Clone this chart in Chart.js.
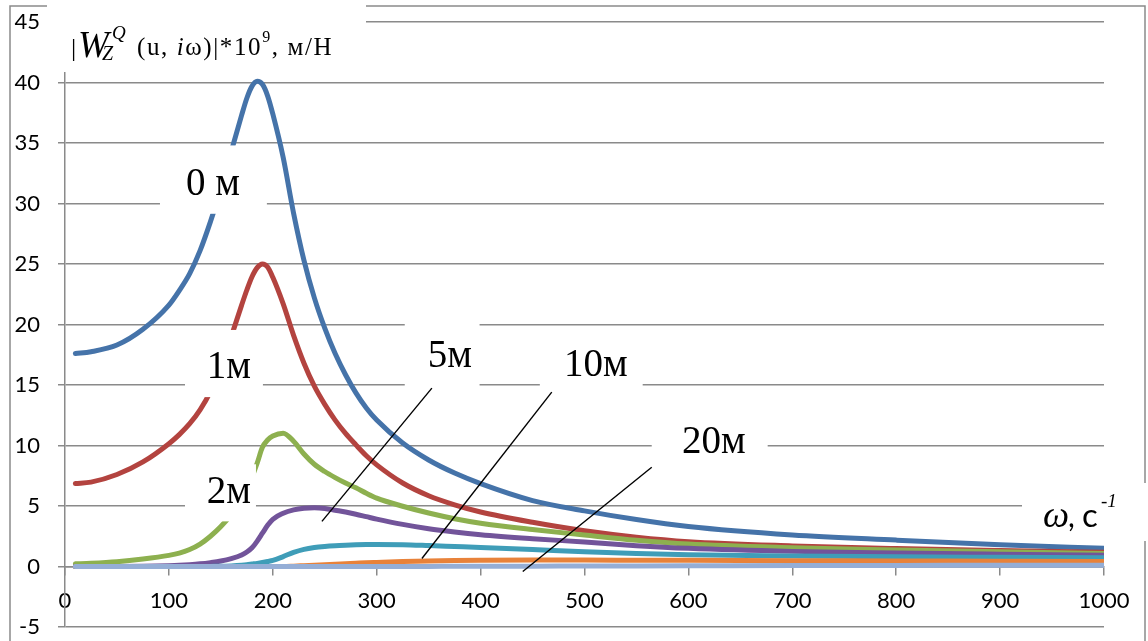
<!DOCTYPE html>
<html>
<head>
<meta charset="utf-8">
<script src="https://cdn.jsdelivr.net/npm/chart.js@4/dist/chart.umd.min.js"></script>
<style>
  html, body { margin: 0; padding: 0; background: #ffffff; }
  #wrap { width: 1148px; height: 641px; position: relative; }
</style>
</head>
<body>
<div id="wrap"><canvas id="chart" width="1148" height="641"></canvas></div>
<script>
// Frequency grid, c^-1
const omega = [10, 25, 50, 75, 100, 110, 120, 130, 140, 150, 160, 170, 175, 180, 185, 190, 195, 200, 210, 220,
               230, 240, 250, 260, 270, 280, 290, 300, 325, 350, 375, 400, 450, 500, 550, 600, 700, 800, 900, 1000];

// |W| * 1e9, m/N, for each depth u
const w0 = [17.6, 17.75, 18.3, 19.6, 21.6, 22.8, 24.2, 26.1, 28.5, 31.2, 34.3, 37.3, 38.7, 39.7, 40.1, 39.85, 38.9, 37.4, 33.8, 29.2,
            25.3, 22.2, 19.7, 17.6, 15.85, 14.35, 13.1, 12.1, 10.2, 8.8, 7.72, 6.85, 5.45, 4.6, 3.88, 3.3, 2.6, 2.18, 1.8, 1.5];
const w1 = [6.86, 6.97, 7.6, 8.64, 10.15, 10.9, 11.8, 12.95, 14.45, 16.5, 19.0, 21.6, 22.85, 23.95, 24.7, 25.0, 24.75, 23.9, 21.7, 19.1,
            16.8, 14.9, 13.4, 12.1, 11.0, 10.05, 9.15, 8.4, 6.9, 5.85, 5.1, 4.5, 3.65, 2.95, 2.42, 2.05, 1.7, 1.48, 1.32, 1.18];
const w2 = [0.22, 0.27, 0.4, 0.62, 0.92, 1.1, 1.4, 1.85, 2.5, 3.3, 4.3, 5.6, 6.4, 7.4, 8.55, 9.85, 10.45, 10.78, 11.02, 10.35,
            9.3, 8.45, 7.85, 7.35, 6.9, 6.5, 6.05, 5.65, 4.98, 4.42, 3.95, 3.58, 3.05, 2.6, 2.17, 1.85, 1.55, 1.37, 1.21, 1.07];
const w5 = [0, 0, 0.01, 0.03, 0.07, 0.1, 0.15, 0.22, 0.32, 0.45, 0.65, 0.95, 1.2, 1.55, 2.1, 2.75, 3.4, 3.9, 4.4, 4.68,
            4.82, 4.86, 4.8, 4.65, 4.5, 4.32, 4.12, 3.92, 3.48, 3.12, 2.85, 2.63, 2.3, 2.02, 1.72, 1.5, 1.25, 1.12, 1.02, 0.93];
const w10 = [0, 0, 0, 0, 0, 0, 0, 0, 0.01, 0.02, 0.05, 0.1, 0.14, 0.2, 0.26, 0.33, 0.41, 0.5, 0.82, 1.17,
             1.42, 1.57, 1.66, 1.72, 1.76, 1.79, 1.81, 1.82, 1.8, 1.73, 1.65, 1.57, 1.4, 1.22, 1.08, 0.98, 0.87, 0.8, 0.76, 0.72];
const w20 = [0, 0, 0, 0, 0, 0, 0, 0, 0, 0, 0, 0, 0, 0, 0, 0, 0, 0, 0, 0.03,
             0.07, 0.11, 0.15, 0.19, 0.23, 0.27, 0.31, 0.34, 0.41, 0.46, 0.49, 0.51, 0.53, 0.53, 0.52, 0.51, 0.48, 0.46, 0.43, 0.41];
const wDeep = [0, 0, 0, 0, 0, 0, 0, 0, 0, 0, 0, 0, 0, 0, 0, 0, 0, 0, 0, 0,
               0, 0, 0, 0, 0, 0, 0, 0, 0.005, 0.01, 0.015, 0.02, 0.03, 0.04, 0.05, 0.06, 0.08, 0.09, 0.1, 0.11];

const seriesNames  = ['0 м', '1м', '2м', '5м', '10м', '20м', ''];
const seriesValues = [w0, w1, w2, w5, w10, w20, wDeep];
const seriesColors = ['#4573A9', '#B3433F', '#8DB04F', '#72549A', '#3F9DB8', '#E8823A', '#95AED6'];

// Axis ranges and ticks
const xMin = 0, xMax = 1000, xStep = 100;
const yMin = -5, yMax = 45, yStep = 5;

// Curve captions: text, centre omega, baseline value, white backing box [w0, w1, v0, v1]
const captions = [
  { text: '0 м', w: 142.4, v: 30.7,  box: [91.4, 194.3, 29.15, 34.8] },
  { text: '1м',  w: 157.8, v: 15.57, box: [115.5, 190.5, 14.0, 19.55] },
  { text: '2м',  w: 157.8, v: 5.22,  box: [115.5, 183.8, 3.73, 8.45] },
  { text: '5м',  w: 370.4, v: 16.48, box: [327, 399, 14.66, 20.5] },
  { text: '10м', w: 510.9, v: 15.73, box: [457, 556, 14.58, 19.05] },
  { text: '20м', w: 624.4, v: 9.36,  box: [564.7, 676.3, 8.28, 12.59] }
];
// Leader lines from captions to curves: [w0, v0, w1, v1]
const leaders = [
  [353.1, 14.74, 247.3, 3.73],
  [468.5, 14.41, 343.5, 0.66],
  [564.7, 8.2, 440.6, -0.41]
];

const GRID = '#8a8a8a';
const SERIF = '"Liberation Serif", "DejaVu Serif", serif';

const overlay = {
  id: 'overlay',
  afterDraw(chart) {
    const { ctx, scales: { x, y } } = chart;
    const X = v => x.getPixelForValue(v);
    const Y = v => y.getPixelForValue(v);
    ctx.save();

    // outer frame
    ctx.strokeStyle = GRID;
    ctx.lineWidth = 1.5;
    ctx.beginPath();
    ctx.moveTo(10, 641); ctx.lineTo(10, 6); ctx.lineTo(1145, 6); ctx.lineTo(1145, 641);
    ctx.stroke();

    // white backing boxes
    ctx.fillStyle = '#ffffff';
    ctx.fillRect(47, 0, 319, 72);          // axis title
    ctx.fillRect(1022, 483, 126, 58);      // omega caption
    captions.forEach(c => {
      const [a, b, lo, hi] = c.box;
      ctx.fillRect(X(a), Y(hi), X(b) - X(a), Y(lo) - Y(hi));
    });

    // curve captions
    ctx.fillStyle = '#000000';
    ctx.textAlign = 'center';
    ctx.textBaseline = 'alphabetic';
    ctx.font = '39px ' + SERIF;
    captions.forEach(c => ctx.fillText(c.text, X(c.w), Y(c.v)));

    // leader lines
    ctx.strokeStyle = '#000000';
    ctx.lineWidth = 1.4;
    leaders.forEach(l => {
      ctx.beginPath();
      ctx.moveTo(X(l[0]), Y(l[1]));
      ctx.lineTo(X(l[2]), Y(l[3]));
      ctx.stroke();
    });

    // y axis title: |W_Z^Q (u, iω)|*10^9, м/Н
    ctx.textAlign = 'left';
    ctx.font = '26px ' + SERIF;
    ctx.fillText('|', 71, 56);
    ctx.font = 'italic 37px ' + SERIF;
    ctx.fillText('W', 78, 57);
    ctx.font = 'italic 20px ' + SERIF;
    ctx.fillText('Z', 102, 60);
    ctx.font = 'italic 19px ' + SERIF;
    ctx.fillText('Q', 112, 39);

    const run = [
      { t: '(u, ',   f: '25px ' + SERIF,         dy: 0 },
      { t: 'i',      f: 'italic 25px ' + SERIF,  dy: 0 },
      { t: 'ω)|*10', f: '25px ' + SERIF,         dy: 0 },
      { t: '9',      f: '16px ' + SERIF,         dy: -13 },
      { t: ', м/Н',  f: '25px ' + SERIF,         dy: 0 }
    ];
    ctx.letterSpacing = '1.6px';
    let cx = 137;
    run.forEach(p => {
      ctx.font = p.f;
      ctx.fillText(p.t, cx, 55 + p.dy);
      cx += ctx.measureText(p.t).width;
    });
    ctx.letterSpacing = '0px';

    // x axis caption: ω, с^-1
    ctx.font = 'italic 37px ' + SERIF;
    ctx.fillText('ω', 1043, 527);
    ctx.font = '30px Lato';
    ctx.fillText(',', 1068, 527);
    ctx.font = '33px Lato';
    ctx.fillText('с', 1082, 527);
    ctx.font = 'italic 19px ' + SERIF;
    ctx.fillText('-1', 1101, 507);

    ctx.restore();
  }
};

const datasets = seriesValues.map((vals, i) => ({
  label: seriesNames[i],
  data: omega.map((w, k) => ({ x: w, y: vals[k] })),
  borderColor: seriesColors[i],
  backgroundColor: seriesColors[i],
  borderWidth: 5,
  borderCapStyle: 'round',
  borderJoinStyle: 'round',
  pointRadius: 0,
  pointHoverRadius: 0,
  fill: false,
  cubicInterpolationMode: 'monotone',
  order: seriesValues.length - 1 - i
}));

new Chart(document.getElementById('chart'), {
  type: 'line',
  data: { datasets },
  options: {
    responsive: false,
    animation: false,
    devicePixelRatio: 1,
    layout: { padding: { left: 10, right: 44, top: 22, bottom: 14 } },
    plugins: { legend: { display: false }, tooltip: { enabled: false }, title: { display: false } },
    scales: {
      x: {
        type: 'linear',
        position: { y: 0 },
        min: xMin, max: xMax,
        afterFit(scale) { scale.height = 0; scale.paddingLeft = 0; scale.paddingRight = 0; },
        ticks: { stepSize: xStep, padding: 13, color: '#000', font: { family: 'Lato', size: 22 }, maxRotation: 0,
                 callback: v => String(v) },
        grid: { drawOnChartArea: false, drawTicks: true, tickLength: 8, color: GRID, lineWidth: 1.5 },
        border: { display: true, color: GRID, width: 1.5 }
      },
      y: {
        type: 'linear',
        position: 'left',
        min: yMin, max: yMax,
        afterFit(scale) { scale.width = 55; scale.paddingTop = 0; scale.paddingBottom = 0; },
        ticks: { stepSize: yStep, padding: 18, color: '#000', font: { family: 'Lato', size: 22 } },
        grid: { drawOnChartArea: true, drawTicks: true, tickLength: 7, color: GRID, lineWidth: 1.5 },
        border: { display: true, color: GRID, width: 1.5 }
      }
    }
  },
  plugins: [overlay]
});
</script>
</body>
</html>
